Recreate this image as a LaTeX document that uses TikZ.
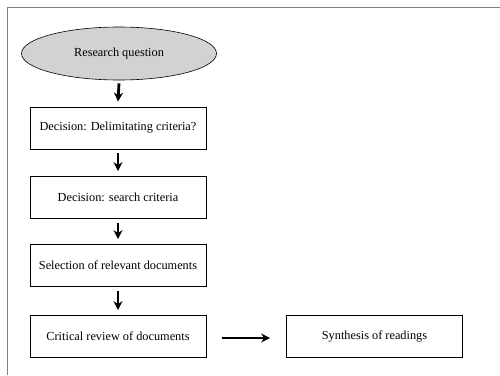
\documentclass[tikz,border=0pt]{standalone}
\usepackage{fontspec}
\setmainfont{Liberation Serif}
\usetikzlibrary{shapes.geometric,arrows.meta}
\definecolor{qgray}{RGB}{210, 210, 210}
\definecolor{fgray}{RGB}{128, 128, 128}

\begin{document}
\begin{tikzpicture}[every node/.style={inner sep=0pt, font=\fontsize{12.3}{14}\selectfont},
  stepbox/.style={rectangle, minimum width=176pt, minimum height=42pt, draw=black, line width=0.8pt},
  flow/.style={line width=2.8pt, -{Stealth[length=9pt, width=9pt]}}]
\useasboundingbox (0pt, 0pt) rectangle (500pt, -375pt);
\draw [line width=1pt, color=fgray] (7pt, -375pt) -- (7pt, -7pt) -- (500pt, -7pt);
\node (q) [ellipse, minimum width=195pt, minimum height=53pt, fill=qgray, draw=black, line width=0.6pt] at (119.0pt, -53.5pt) {Research question};
\node (d1) [stepbox] at (118.0pt, -128.0pt) {Decision: Delimitating criteria?};
\node (d2) [stepbox] at (118.0pt, -197.5pt) {Decision: search criteria};
\node (sel) [stepbox] at (118.0pt, -265.5pt) {Selection of relevant documents};
\node (rev) [stepbox] at (118.0pt, -336.5pt) {Critical review of documents};
\node (syn) [stepbox] at (374.5pt, -336.5pt) {Synthesis of readings};
\draw [flow] ([yshift=-3pt]q.south) to ([yshift=5pt]d1.north);
\draw [flow] ([yshift=-4pt]d1.south) to ([yshift=5pt]d2.north);
\draw [flow] ([yshift=-4pt]d2.south) to ([yshift=5pt]sel.north);
\draw [flow] ([yshift=-4pt]sel.south) to ([yshift=5pt]rev.north);
\draw [flow] ([xshift=16pt, yshift=-1.5pt]rev.east) to ([xshift=-16pt, yshift=-1.5pt]syn.west);
\end{tikzpicture}
\end{document}
